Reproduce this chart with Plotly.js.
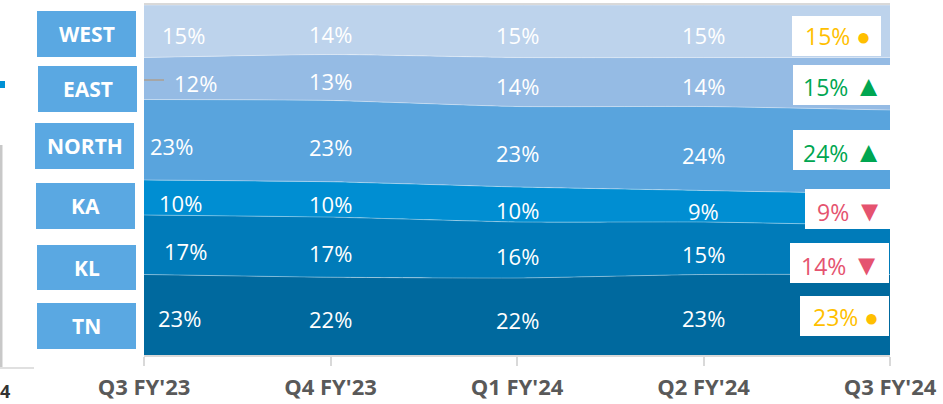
<!DOCTYPE html>
<html>
<head>
<meta charset="utf-8">
<script src="https://cdn.plot.ly/plotly-3.0.1.min.js"></script>
<style>html,body{margin:0;padding:0;background:#fff;}#chart{width:943px;height:404px;}</style>
</head>
<body>
<div id="chart"></div>
<script>
// ---- data ----
const quarters = ["Q3 FY'23", "Q4 FY'23", "Q1 FY'24", "Q2 FY'24", "Q3 FY'24"];
const regions = ["TN", "KL", "KA", "NORTH", "EAST", "WEST"]; // bottom -> top
const TN    = [23, 22, 22, 23, 23];
const KL    = [17, 17, 16, 15, 14];
const KA    = [10, 10, 10, 9, 9];
const NORTH = [23, 23, 23, 24, 24];
const EAST  = [12, 13, 14, 14, 15];
const WEST  = [15, 14, 15, 15, 15];

// ---- styles ----
const series = [TN, KL, KA, NORTH, EAST, WEST];
const fills = ["#00699E", "#007BB9", "#008ED2", "#59A4DD", "#95BBE4", "#BDD3EC"];
const L = 144, R = 890, T = 5, B = 355, W = 943, H = 404;
const pw = R - L, ph = B - T;
const px = x => (x - L) / pw;
const py = y => (B - y) / ph;

const traces = series.map((s, k) => ({
  type: 'scatter', mode: 'lines', x: quarters, y: s, name: regions[k],
  stackgroup: 'one', groupnorm: 'percent',
  line: {width: 1, color: 'rgba(255,255,255,0.35)', shape: 'spline', smoothing: 0.5},
  fillcolor: fills[k], hoverinfo: 'skip'
}));

const annotations = [];
const shapes = [];
const font = "'Open Sans', 'Noto Sans', sans-serif";

// in-band value labels (all but last quarter)
const firstXShift = [35, 41, 36, 27, 51, 39];
const yShifts = [-3, -6, -5, -6, -4, -4];
for (let i = 0; i < quarters.length - 1; i++) {
  const tot = series.reduce((a, s) => a + s[i], 0);
  let cum = 0;
  series.forEach((s, k) => {
    const c = (cum + s[i] / 2) / tot * 100;
    cum += s[i];
    annotations.push({
      x: quarters[i], y: c, xref: 'x', yref: 'y', text: s[i] + '%', showarrow: false,
      xshift: i === 0 ? firstXShift[k] : 0, yshift: yShifts[k],
      font: {family: font, size: 22, color: '#ffffff'}
    });
  });
}
// leader line for EAST first label
shapes.push({type: 'line', xref: 'paper', yref: 'paper', x0: px(144), x1: px(164), y0: py(80), y1: py(80),
  line: {color: '#a6a6a6', width: 2}});

// left region boxes
const leftBoxes = [[37, 303, 136, 349], [37, 245, 136, 290], [36, 183, 135, 229],
                   [35, 123, 134, 169], [38, 66, 137, 112], [37, 11, 136, 57]];
regions.forEach((r, k) => {
  const b = leftBoxes[k];
  shapes.push({type: 'rect', xref: 'paper', yref: 'paper', x0: px(b[0]), x1: px(b[2]), y0: py(b[3]), y1: py(b[1]),
    fillcolor: '#5AA8E2', line: {width: 0}, layer: 'above'});
  annotations.push({xref: 'paper', yref: 'paper', x: px((b[0] + b[2]) / 2), y: py((b[1] + b[3]) / 2),
    xanchor: 'center', yanchor: 'middle', showarrow: false, text: '<b>' + r + '</b>',
    font: {family: font, size: 21, color: '#ffffff'}});
});

// right latest-value boxes (trend vs same quarter last year)
const rightBoxes = [[800, 296, 889, 336], [790, 243, 889, 283], [805, 189, 893, 229],
                    [793, 130, 890, 170], [793, 65, 890, 105], [792, 16, 881, 56]];
series.forEach((s, k) => {
  const last = s[s.length - 1], first = s[0];
  let sym, col, ss;
  if (last > first) { sym = '▲'; col = '#00A651'; ss = 29; }
  else if (last < first) { sym = '▼'; col = '#E5536F'; ss = 29; }
  else { sym = '●'; col = '#FFBF00'; ss = 24; }
  const b = rightBoxes[k];
  shapes.push({type: 'rect', xref: 'paper', yref: 'paper', x0: px(b[0]), x1: px(b[2]), y0: py(b[3]), y1: py(b[1]),
    fillcolor: '#ffffff', line: {width: 0}, layer: 'above'});
  annotations.push({xref: 'paper', yref: 'paper', x: px((b[0] + b[2]) / 2 + 1), y: py((b[1] + b[3]) / 2),
    xanchor: 'center', yanchor: 'middle', showarrow: false,
    text: last + '% ' + '<span style="font-size:' + ss + 'px">' + sym + '</span>',
    font: {family: font, size: 23, color: col}});
});

// fragments of neighbouring panel
shapes.push({type: 'rect', xref: 'paper', yref: 'paper', x0: px(0), x1: px(5), y0: py(88), y1: py(81),
  fillcolor: '#0091D5', line: {width: 0}});
shapes.push({type: 'line', xref: 'paper', yref: 'paper', x0: px(1), x1: px(1), y0: py(145), y1: py(368),
  line: {color: '#c8c8c8', width: 3}});
shapes.push({type: 'line', xref: 'paper', yref: 'paper', x0: px(0), x1: px(34), y0: py(368), y1: py(368),
  line: {color: '#e0e0e0', width: 2}});
annotations.push({xref: 'paper', yref: 'paper', x: px(-2), y: py(391), xanchor: 'left', yanchor: 'middle',
  showarrow: false, text: '<b>4</b>', font: {family: font, size: 18, color: '#333333'}});

const layout = {
  width: W, height: H,
  margin: {l: L, r: W - R, t: T, b: H - B, pad: 0},
  paper_bgcolor: '#ffffff', plot_bgcolor: '#ffffff',
  showlegend: false,
  xaxis: {type: 'category', range: [0, quarters.length - 1], showgrid: false, zeroline: false,
    showline: true, linecolor: '#d9d9d9', linewidth: 2, mirror: true,
    ticks: 'outside', ticklen: 9, tickwidth: 2, tickcolor: '#d9d9d9', ticklabelstandoff: 3,
    tickfont: {family: font, size: 22, color: '#595959', weight: 'bold'}},
  yaxis: {range: [0, 100], visible: false, fixedrange: true},
  shapes: shapes, annotations: annotations
};
Plotly.newPlot('chart', traces, layout, {displayModeBar: false, staticPlot: true});
</script>
</body>
</html>
